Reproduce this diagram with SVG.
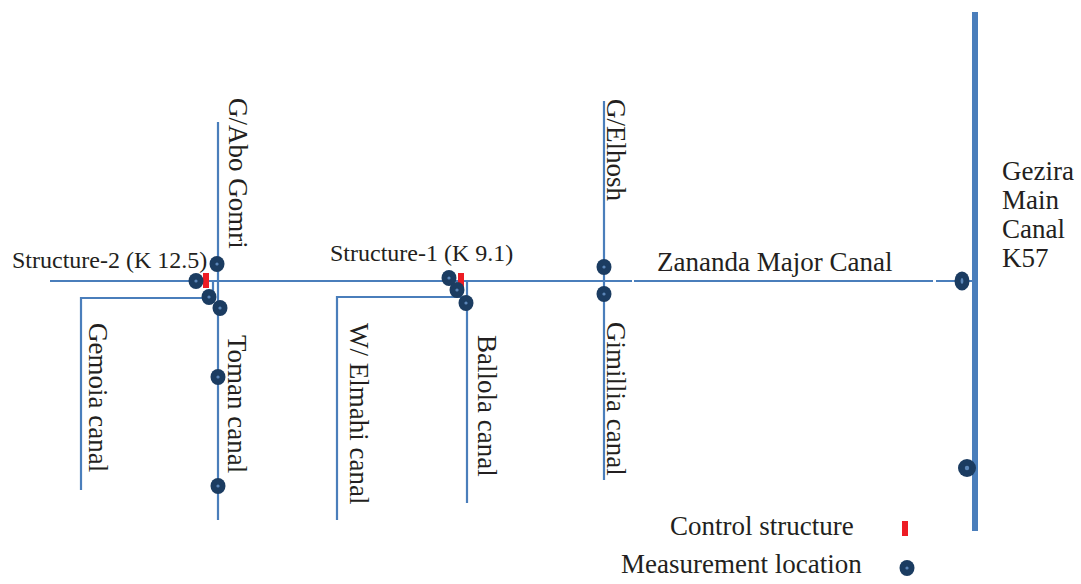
<svg xmlns="http://www.w3.org/2000/svg" width="1081" height="584" viewBox="0 0 1081 584">
<defs>
<style>
.ln{fill:none;stroke:#4a7ebb;stroke-width:2.2}
.main{fill:none;stroke:#4a7ebb;stroke-width:6}
text{font-family:'Liberation Serif','Times New Roman','DejaVu Serif',serif;fill:#231f20}
.t{font-size:27px}
.s{font-size:24px}
.cs{fill:#ed1c24}
.md{fill:#1b3c61}
.mc{fill:#5b86b8}
</style>
<g id="dot"><ellipse cx="0" cy="0" rx="7.5" ry="8" class="md"/><circle cx="0" cy="0" r="1.6" class="mc"/></g>
</defs>
<rect width="1081" height="584" fill="#ffffff"/>
<g id="connectors">
<path class="main" d="M975,12 V531"/>
<path class="ln" d="M50,281 H632 M634,281 H933 M936,281 H973"/>
<path class="ln" d="M218,122 V520"/>
<path class="ln" d="M213,281 V298 H81 V490"/>
<path class="ln" d="M461,281 V297 H337 V520"/>
<path class="ln" d="M467,281 V503"/>
<path class="ln" d="M604,101 V480"/>
</g>
<g id="labels">
<g id="lbl-structure2"><text class="s" x="12" y="268" font-family="Liberation Serif, serif">Structure-2 (K 12.5)</text></g>
<g id="lbl-structure1"><text class="s" x="330" y="261" font-family="Liberation Serif, serif">Structure-1 (K 9.1)</text></g>
<g id="lbl-zananda"><text class="t" x="657" y="271" font-family="Liberation Serif, serif">Zananda Major Canal</text></g>
<g id="lbl-gezira" font-family="Liberation Serif, serif"><text class="t" x="1002" y="180">Gezira</text><text class="t" x="1002" y="209">Main</text><text class="t" x="1002" y="238">Canal</text><text class="t" x="1002" y="267">K57</text></g>
<g id="lbl-aboGomri"><text class="t" transform="translate(229,98) rotate(90)" font-family="Liberation Serif, serif">G/Abo Gomri</text></g>
<g id="lbl-toman"><text class="t" transform="translate(228,335) rotate(90)" font-family="Liberation Serif, serif">Toman canal</text></g>
<g id="lbl-gemoia"><text class="t" transform="translate(89,323) rotate(90)" font-family="Liberation Serif, serif">Gemoia canal</text></g>
<g id="lbl-elmahi"><text class="t" transform="translate(350,323) rotate(90)" font-family="Liberation Serif, serif">W/ Elmahi canal</text></g>
<g id="lbl-ballola"><text class="t" transform="translate(478,335) rotate(90)" font-family="Liberation Serif, serif">Ballola canal</text></g>
<g id="lbl-elhosh"><text class="t" transform="translate(607,99) rotate(90)" font-family="Liberation Serif, serif">G/Elhosh</text></g>
<g id="lbl-gimillia"><text class="t" transform="translate(607,322) rotate(90)" font-family="Liberation Serif, serif">Gimillia canal</text></g>
</g>
<g id="control-structure-2"><rect class="cs" x="203" y="273" width="6" height="15"/></g>
<g id="control-structure-1"><rect class="cs" x="458" y="273" width="6" height="15"/></g>
<g id="measurements">
<use href="#dot" x="217" y="264"/>
<use href="#dot" x="196" y="281"/>
<use href="#dot" x="209" y="297"/>
<use href="#dot" x="220" y="308"/>
<use href="#dot" x="218" y="377"/>
<use href="#dot" x="218" y="486"/>
<use href="#dot" x="449" y="278"/>
<use href="#dot" x="457" y="290"/>
<use href="#dot" x="466" y="303"/>
<use href="#dot" x="604" y="267"/>
<use href="#dot" x="604" y="294"/>
<g id="m-zananda"><ellipse cx="962" cy="281" rx="7.5" ry="9.5" class="md"/><ellipse cx="962" cy="281" rx="1.4" ry="3" class="mc"/></g>
<g id="m-gezira"><circle cx="967" cy="468" r="9" class="md"/><circle cx="967" cy="468" r="2.2" class="mc"/></g>
</g>
<g id="legend">
<g id="legend-control"><text class="t" x="670" y="535" font-family="Liberation Serif, serif">Control structure</text><rect class="cs" x="902" y="521" width="6" height="15"/></g>
<g id="legend-measure"><text class="t" x="621" y="573" font-family="Liberation Serif, serif">Measurement location</text><use href="#dot" x="907" y="568"/></g>
</g>
</svg>
